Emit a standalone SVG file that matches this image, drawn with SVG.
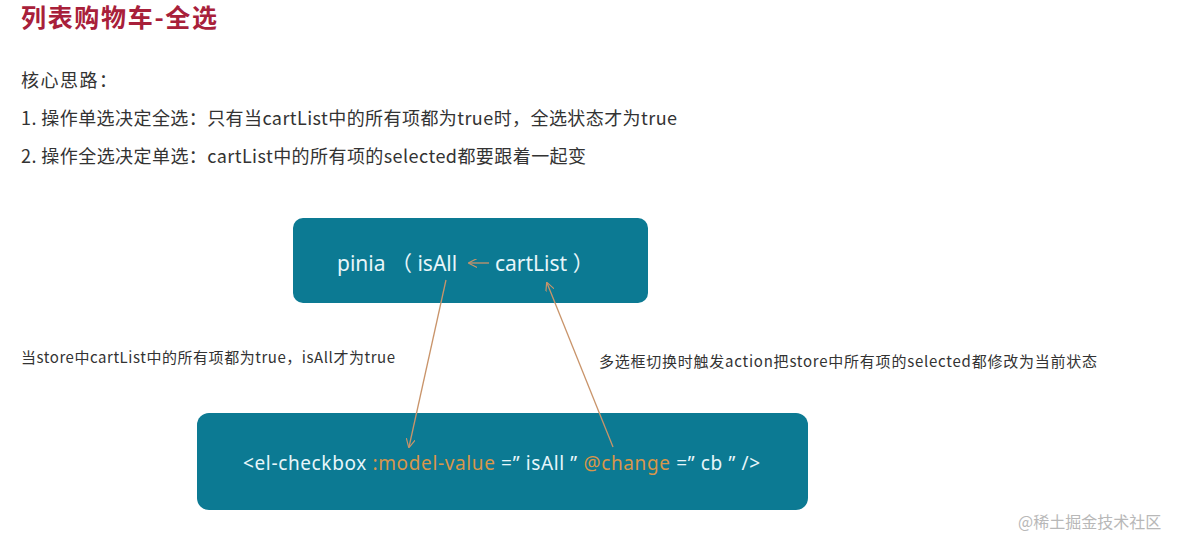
<svg xmlns="http://www.w3.org/2000/svg" width="1184" height="538" viewBox="0 0 1184 538">
<style>
.t{font-family:"Noto Sans CJK SC","Noto Sans",sans-serif;fill:#333}
.box{fill:#0c7a93}
.w{font-family:"Noto Sans","Noto Sans CJK SC",sans-serif;fill:#e8f6fa}
.o{fill:#d9964a}
.ln{stroke:#c9946a;stroke-width:1.3;fill:none}
</style>
<defs>
<marker id="ah" viewBox="0 0 10 10" refX="9" refY="5" markerWidth="9" markerHeight="9" orient="auto" markerUnits="userSpaceOnUse">
<path d="M0,0 L10,5 L0,10" fill="none" stroke="#c9946a" stroke-width="1.3"/>
</marker>
</defs>
<rect width="1184" height="538" fill="#fff"/>
<text class="t" x="21" y="27" font-size="25" font-weight="bold" style="fill:#a8203a" textLength="196">列表购物车-全选</text>
<text class="t" x="21" y="87" font-size="18" textLength="96">核心思路：</text>
<text class="t" x="21" y="125" font-size="18" textLength="656">1. 操作单选决定全选：只有当cartList中的所有项都为true时，全选状态才为true</text>
<text class="t" x="21" y="163" font-size="18" textLength="565">2. 操作全选决定单选：cartList中的所有项的selected都要跟着一起变</text>
<g id="pinia">
<rect class="box" x="293" y="218" width="355" height="85" rx="10"/>
<text class="w" x="337" y="271" font-size="21">pinia （ isAll</text>
<text class="w" x="495" y="271" font-size="21">cartList ）</text>
</g>
<g id="checkbox">
<rect class="box" x="197" y="413" width="611" height="97" rx="12"/>
<text x="243" y="470" font-size="19" font-family="'Noto Sans',sans-serif" textLength="517"><tspan style="fill:#e8f6fa">&lt;el-checkbox </tspan><tspan class="o">:model-value</tspan><tspan style="fill:#e8f6fa"> =” isAll ” </tspan><tspan class="o">@change</tspan><tspan style="fill:#e8f6fa"> =” cb ” /&gt;</tspan></text>
</g>
<text class="t" x="21" y="363" font-size="15" textLength="374">当store中cartList中的所有项都为true，isAll才为true</text>
<text class="t" x="599" y="367" font-size="15" textLength="498">多选框切换时触发action把store中所有项的selected都修改为当前状态</text>
<g id="connectors">
<line class="ln" x1="489" y1="263" x2="469" y2="263" marker-end="url(#ah)"/>
<line class="ln" x1="446" y1="280" x2="409" y2="447" marker-end="url(#ah)"/>
<line class="ln" x1="613" y1="447" x2="547" y2="283" marker-end="url(#ah)"/>
</g>
<text x="1018" y="528" font-size="16" font-family="'Noto Sans CJK SC',sans-serif" fill="#b8b8b8">@稀土掘金技术社区</text>
</svg>
